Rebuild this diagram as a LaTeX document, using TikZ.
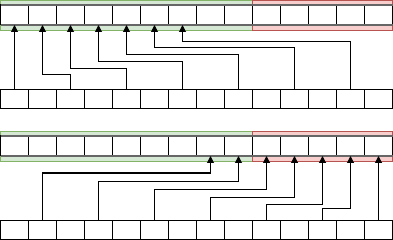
\documentclass[tikz,border=0pt]{standalone}
\usepackage{xcolor}
\usepackage{tikz}
\usetikzlibrary{
	arrows.meta,
	calc,
	positioning
}
\definecolor{okfill}{HTML}{D5E8D4}
\definecolor{okline}{HTML}{82B366}
\definecolor{badfill}{HTML}{F8CECC}
\definecolor{badline}{HTML}{B85450}
\definecolor{rimgray}{HTML}{666666}
\tikzset{
	cell/.style={draw=black, fill=white, line width=1pt, minimum width=28pt, inner sep=0pt, outer sep=0pt, anchor=north west},
	link/.style={line width=1pt, -{Triangle[width=7pt,length=7pt]}}
}

\begin{document}
\begin{tikzpicture}[x=1pt, y=-1pt]
		\useasboundingbox (0,0) rectangle (393,240);
		% obere Gruppe
		\draw[okline, fill=okfill] (0.5,0.5) rectangle (252.5,30);
		\draw[badline, fill=badfill] (252.5,0.5) rectangle (392.5,30);
		\foreach \i in {0,...,13} {
			\node[cell, minimum height=20pt] (a\i) at ({0.5+28*\i},5) {};
			\node[cell, minimum height=19pt] (b\i) at ({0.5+28*\i},89.5) {};
		}
		\draw[rimgray, line width=2pt] (a0.north west) -- (a13.north east);
		\draw[rimgray, line width=2pt] (a0.south west) -- (a13.south east);
		\foreach \i/\lev in {0/60,1/75,2/69,3/62,4/55,5/48,6/42} {
			\pgfmathtruncatemacro\j{2*\i}
			\draw[link] (b\j.north) -- (b\j.north |- 0,\lev) -| (a\i.south);
		}
		% untere Gruppe
		\draw[okline, fill=okfill] (0.5,131.5) rectangle (252.5,161);
		\draw[badline, fill=badfill] (252.5,131.5) rectangle (392.5,161);
		\foreach \i in {0,...,13} {
			\node[cell, minimum height=20pt] (c\i) at ({0.5+28*\i},136) {};
			\node[cell, minimum height=19pt] (d\i) at ({0.5+28*\i},220) {};
		}
		\draw[rimgray, line width=2pt] (c0.north west) -- (c13.north east);
		\draw[rimgray, line width=2pt] (c0.south west) -- (c13.south east);
		\foreach \i/\lev in {0/173,1/181,2/189,3/197,4/204,5/208,6/190} {
			\pgfmathtruncatemacro\j{2*\i+1}
			\pgfmathtruncatemacro\k{7+\i}
			\draw[link] (d\j.north) -- (d\j.north |- 0,\lev) -| (c\k.south);
		}
	\end{tikzpicture}
\end{document}
